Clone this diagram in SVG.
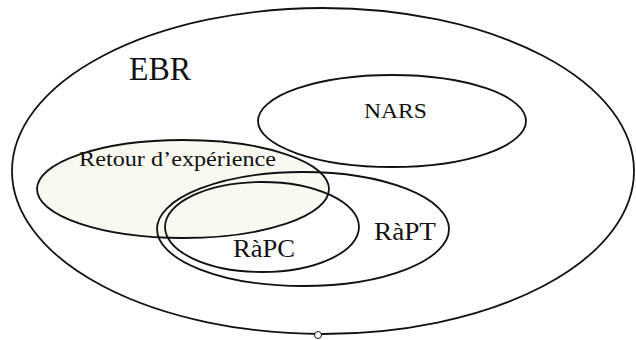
<svg xmlns="http://www.w3.org/2000/svg" width="636" height="340" viewBox="0 0 636 340">
  <defs>
    <style>
      .set { fill: none; stroke: #111; stroke-width: 1.8; }
      text { font-family: "Liberation Serif", "DejaVu Serif", serif; fill: #111; }
    </style>
  </defs>
  <rect width="636" height="340" fill="#ffffff"/>
  <g id="retour">
    <ellipse cx="183" cy="189" rx="146" ry="49" fill="#f9f9f1" stroke="#111" stroke-width="1.8"/>
    <text x="79" y="166" font-family="Liberation Serif, serif" font-size="22" textLength="197" lengthAdjust="spacingAndGlyphs">Retour d’expérience</text>
  </g>
  <g id="ebr">
    <ellipse class="set" cx="323" cy="171" rx="311" ry="163"/>
    <text x="129" y="80" font-family="Liberation Serif, serif" font-size="33" textLength="62" lengthAdjust="spacingAndGlyphs">EBR</text>
  </g>
  <g id="nars">
    <ellipse class="set" cx="392" cy="121" rx="134" ry="46"/>
    <text x="364" y="118" font-family="Liberation Serif, serif" font-size="22" textLength="63" lengthAdjust="spacingAndGlyphs">NARS</text>
  </g>
  <g id="rapt">
    <ellipse class="set" cx="303" cy="229" rx="146" ry="57"/>
    <text x="374" y="240" font-family="Liberation Serif, serif" font-size="26" textLength="62" lengthAdjust="spacingAndGlyphs">RàPT</text>
  </g>
  <g id="rapc">
    <ellipse class="set" cx="262" cy="227" rx="97" ry="45"/>
    <text x="233" y="257" font-family="Liberation Serif, serif" font-size="26" textLength="62" lengthAdjust="spacingAndGlyphs">RàPC</text>
  </g>
  <g id="connectors">
    <circle cx="318" cy="335" r="3.5" fill="#fff" stroke="#111" stroke-width="1"/>
  </g>
</svg>
